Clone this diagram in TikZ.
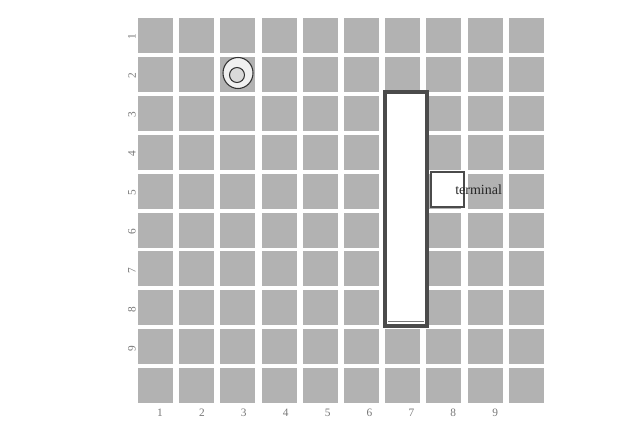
\documentclass[tikz,border=0pt]{standalone}
\usepackage{fontspec}
\setmainfont{Liberation Serif}
\definecolor{cellgray}{RGB}{178,178,178}
\definecolor{labgray}{RGB}{120,120,120}
\definecolor{boxline}{RGB}{75,75,75}
\tikzset{
  cell/.style={fill=cellgray, draw=none},
  axlab/.style={font=\fontsize{8.5}{9}\selectfont, text=labgray, inner sep=0pt},
  wall/.style={draw=boxline, line width=2.4pt, fill=white},
  termbox/.style={draw=boxline, line width=0.9pt, fill=white},
}
\begin{document}
\begin{tikzpicture}[x=0.75pt,y=-0.75pt]
\useasboundingbox[fill=white] (0,0) rectangle (630,439);
% grid of cells
\foreach \i in {1,...,10}{
  \foreach \j in {1,...,10}{
    \fill[cellgray] ({138+(\i-1)*41.2},{18+(\j-1)*38.9}) rectangle ++(35,35);
  }
}
% bottom labels
\foreach \k in {1,...,9}{
  \node[axlab] (bx\k) at ({160+(\k-1)*41.9},413) {\k};
}
% left labels
\foreach \k in {1,...,9}{
  \node[axlab, rotate=90] (ly\k) at (132,{37+(\k-1)*38.9}) {\k};
}
% tall white rectangle
\draw[wall] (385,92) rectangle (427,326);
\draw[draw=labgray, line width=0.6pt] (388,321) -- (424,321);
% circle marker
\draw[draw=black!80, line width=0.8pt, fill=black!6] (238,73) ellipse (15 and 15.5);
\draw[draw=black!80, line width=0.8pt, fill=black!15] (237,75) circle (7.5);
% terminal box
\draw[termbox] (431,172) rectangle (464,207);
\node[inner sep=0pt, anchor=west, font=\fontsize{10.5}{11}\selectfont, text=black!85] (term) at (455,190) {terminal};
\end{tikzpicture}
\end{document}
